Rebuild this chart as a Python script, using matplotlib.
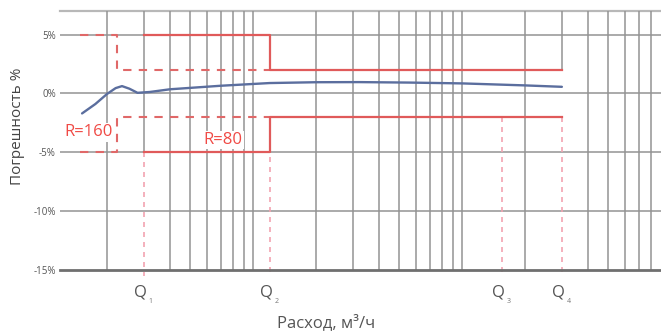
import matplotlib
matplotlib.use("Agg")
import matplotlib.pyplot as plt

plt.rcParams['font.family'] = ['Open Sans', 'DejaVu Sans']

# ---- data ----
yticks = [5, 0, -5, -10, -15]
ytick_labels = ["5%", "0%", "-5%", "-10%", "-15%"]

grid_x = [1, 1.5, 2, 2.5, 3, 3.5, 4, 4.5, 5,
          10, 15, 20, 25, 30, 35, 40, 45, 50,
          100, 150, 200, 250, 300, 350, 400, 450]

q_names = ["1", "2", "3", "4"]
q_values = [1.5, 6.0, 77.6, 150]

# measured error curve
curve_x = [0.76, 0.88, 1.0, 1.1, 1.18, 1.28, 1.4, 1.6, 2.0, 3.5, 6.0, 10, 16, 28, 50, 100, 150]
curve_y = [-1.7, -0.9, -0.05, 0.45, 0.62, 0.4, 0.05, 0.12, 0.35, 0.65, 0.88, 0.95, 0.96, 0.92, 0.85, 0.68, 0.56]

# limits R=160 (dashed)
r160_x = [0.74, 1.12, 1.12, 6.0]
r160_upper = [5, 5, 2, 2]
r160_lower = [-5, -5, -2, -2]

# limits R=80 (solid)
r80_x = [1.5, 6.0, 6.0, 150]
r80_upper = [5, 5, 2, 2]
r80_lower = [-5, -5, -2, -2]

# pink dashed drop lines: start level for each Q
q_drop_from = [-5, -2, -2, -2]

fig = plt.figure(figsize=(6.61, 3.32), dpi=100)
ax = fig.add_axes([60/661, 1 - 270/332, 1 - 60/661, (270 - 11)/332])
ax.set_xscale('log')
ax.set_xlim(0.596, 447)
ax.set_ylim(-15, 7)

grid_c = '#939393'
# horizontal grid
for yv in [5, 0, -5, -10]:
    ax.axhline(yv, color=grid_c, lw=1.1, zorder=1)
ax.axhline(7, color='#b8b8b8', lw=1.6, zorder=1, clip_on=False)
ax.axhline(-15, color='#6f6f6f', lw=2.0, zorder=3, clip_on=False)

# vertical grid
for gx in grid_x:
    if gx == 1.5:
        ax.vlines(gx, -5, 7, color=grid_c, lw=1.1, zorder=1)
    elif gx == 150:
        ax.vlines(gx, 2, 7, color=grid_c, lw=1.1, zorder=1)
    else:
        ax.vlines(gx, -15, 7, color=grid_c, lw=1.1, zorder=1)

for s in ax.spines.values():
    s.set_visible(False)

ax.set_yticks(yticks)
ax.set_yticklabels(ytick_labels)
ax.tick_params(axis='y', length=0, pad=3, labelsize=7, labelcolor='#555555')
ax.set_xticks([])
ax.xaxis.set_minor_locator(matplotlib.ticker.NullLocator())

# pink dashed drop lines
pink = '#f2a3b0'
for q, y0 in zip(q_values, q_drop_from):
    ax.plot([q, q], [y0, -15.5], color=pink, lw=1.2, ls=(0, (3, 3)), zorder=2, clip_on=False)

# R=160 dashed limits
red_d = '#e06868'
ax.plot(r160_x, r160_upper, color=red_d, lw=1.5, ls=(0, (4, 3.5)), zorder=4)
ax.plot(r160_x, r160_lower, color=red_d, lw=1.5, ls=(0, (4, 3.5)), zorder=4)

# R=80 solid limits
red_s = '#e05a5a'
ax.plot(r80_x, r80_upper, color=red_s, lw=1.6, zorder=5)
ax.plot(r80_x, r80_lower, color=red_s, lw=1.6, zorder=5)

# curve
ax.plot(curve_x, curve_y, color='#5b6e9e', lw=1.7, zorder=6, solid_capstyle='round')

# R labels
txt_red = '#f04a45'
ax.text(0.625, -3.3, "R=160", color=txt_red, fontsize=12, ha='left', va='center', zorder=7,
        bbox=dict(facecolor='white', edgecolor='none', pad=1))
ax.text(2.9, -3.95, "R=80", color=txt_red, fontsize=12, ha='left', va='center', zorder=7,
        bbox=dict(facecolor='white', edgecolor='none', pad=1))

# Q labels
for name, q in zip(q_names, q_values):
    ax.annotate("Q", xy=(q, -15), xycoords='data', xytext=(-2.5, -16), textcoords='offset points',
                ha='center', va='center', fontsize=12, color='#555555', annotation_clip=False)
    ax.annotate(name, xy=(q, -15), xycoords='data', xytext=(5, -23), textcoords='offset points',
                ha='center', va='center', fontsize=5, color='#777777', annotation_clip=False)

fig.text(18/661, 1 - 126/332, "Погрешность %", rotation=90, ha='center', va='center',
         fontsize=11, color='#444444')
fig.text(326/661, 1 - 323/332, "Расход, м³/ч", ha='center', va='center',
         fontsize=12, color='#555555')

fig.savefig("out.png", dpi=100)
